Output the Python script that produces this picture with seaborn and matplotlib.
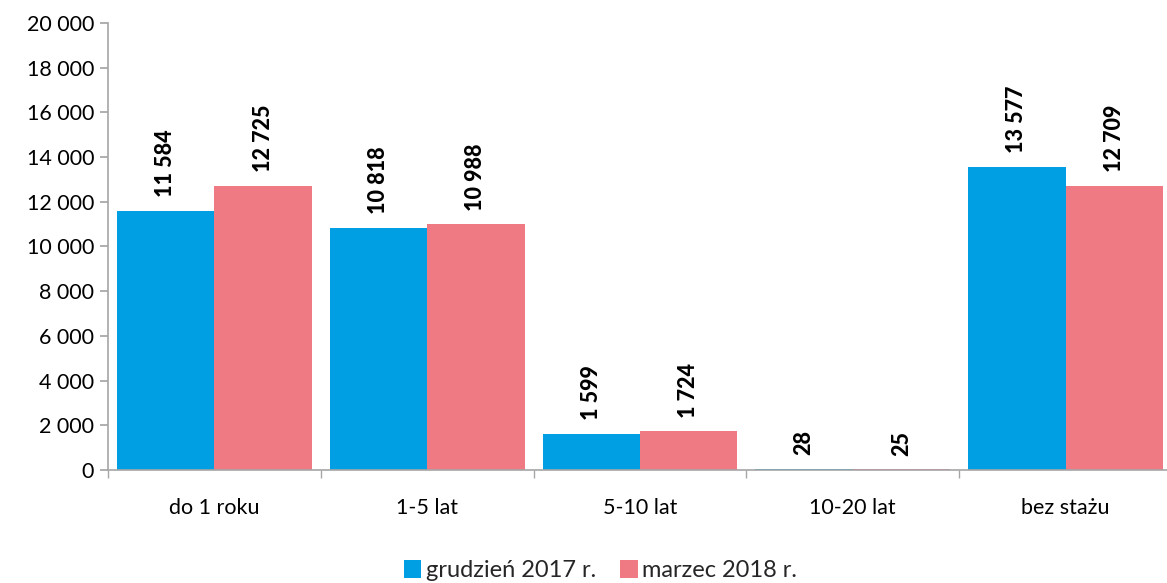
import matplotlib
matplotlib.use("Agg")
import matplotlib.pyplot as plt
import seaborn as sns
import pandas as pd
import numpy as np
from matplotlib.ticker import FuncFormatter, FixedLocator

categories = ["do 1 roku", "1-5 lat", "5-10 lat", "10-20 lat", "bez stażu"]
series_names = ["grudzień 2017 r.", "marzec 2018 r."]
dec_2017 = [11584, 10818, 1599, 28, 13577]
mar_2018 = [12725, 10988, 1724, 25, 12709]
colors = ["#009FE3", "#F07A84"]

df = pd.DataFrame({
    "cat": categories * 2,
    "series": [series_names[0]] * len(categories) + [series_names[1]] * len(categories),
    "value": dec_2017 + mar_2018,
})

sns.set_theme(style="white")
plt.rcParams["font.family"] = ["Lato", "DejaVu Sans"]

fig = plt.figure(figsize=(11.67, 5.83), dpi=100)
ax = fig.add_axes([108/1167, 1 - 470/583, (1172-108)/1167, (470-23)/583])

sns.barplot(data=df, x="cat", y="value", hue="series", palette=colors,
            order=categories, hue_order=series_names, width=0.915,
            saturation=1, ax=ax, legend=True, edgecolor="none")

def fmt(v):
    return f"{int(v):,}".replace(",", " ")

for cont in ax.containers:
    for bar in cont:
        h = bar.get_height()
        ax.annotate(fmt(h), (bar.get_x() + bar.get_width()/2, h),
                    xytext=(0, 10), textcoords="offset points",
                    rotation=90, ha="center", va="bottom",
                    fontsize=15.5, fontweight="black", color="black")

ax.set_ylim(0, 20000)
ax.set_yticks(np.arange(0, 20001, 2000))
ax.yaxis.set_major_formatter(FuncFormatter(lambda v, p: fmt(v)))
ax.set_xlim(-0.5, len(categories) - 0.5)
ax.set_xlabel("")
ax.set_ylabel("")

for s in ["top", "right"]:
    ax.spines[s].set_visible(False)
for s in ["left", "bottom"]:
    ax.spines[s].set_color("#A6A6A6")
    ax.spines[s].set_linewidth(1.2)

ax.tick_params(axis="y", which="major", length=6, color="#A6A6A6", labelsize=15.5, pad=4, direction="out", left=True)
ax.tick_params(axis="x", which="major", length=0, labelsize=15.5, pad=20)
ax.xaxis.set_minor_locator(FixedLocator(np.arange(-0.5, len(categories), 1.0)))
ax.tick_params(axis="x", which="minor", length=6, color="#A6A6A6", direction="out", bottom=True)
for lbl in ax.get_xticklabels() + ax.get_yticklabels():
    lbl.set_color("black")

leg = ax.legend(loc="lower center", bbox_to_anchor=(0.5 - 0.037, -0.27), ncol=2,
                frameon=False, fontsize=17, handlelength=0.75, handleheight=0.75,
                handletextpad=0.2, columnspacing=1.0, borderaxespad=0)

fig.savefig("out.png", dpi=100)
